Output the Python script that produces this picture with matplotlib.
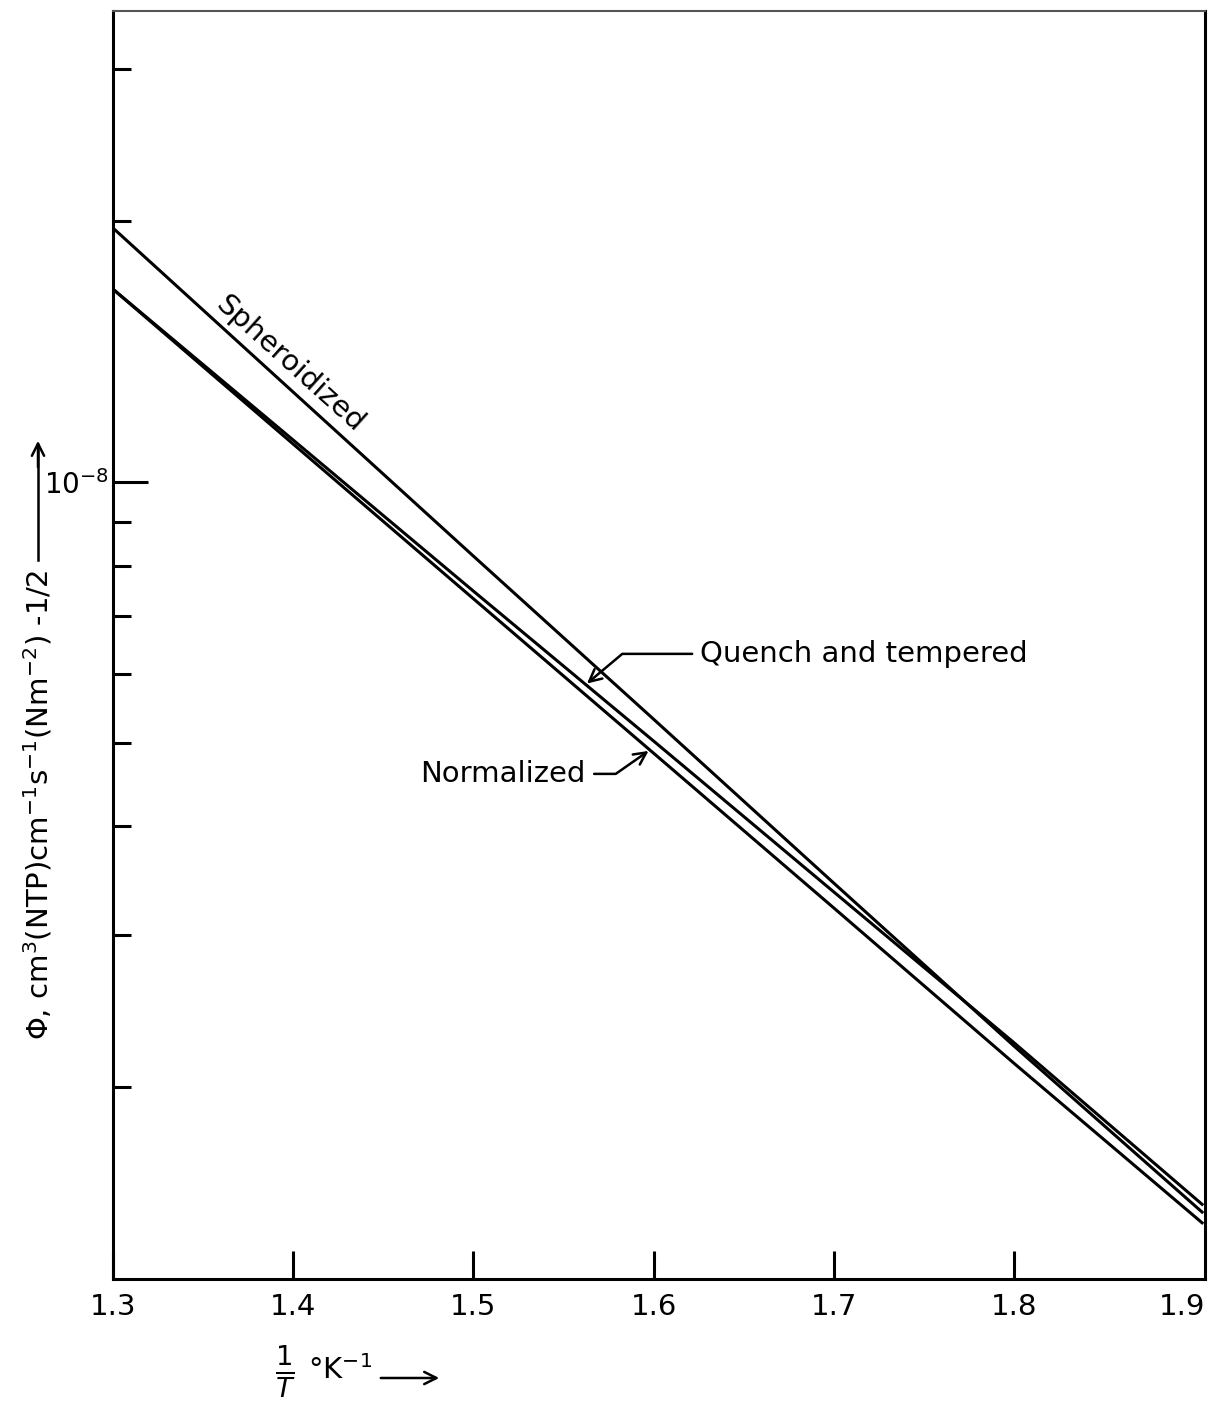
import numpy as np
import matplotlib
matplotlib.use("Agg")
import matplotlib.pyplot as plt
from matplotlib.patches import FancyArrowPatch
from matplotlib.ticker import FixedLocator, NullLocator
from matplotlib.transforms import ScaledTranslation

# 1/T values (10^-3 K^-1) and permeation
inv_T = [1.30, 1.40, 1.50, 1.60, 1.70, 1.80, 1.905]
spheroidized = [1.965e-8, 1.27e-8, 8.21e-9, 5.32e-9, 3.44e-9, 2.23e-9, 1.43e-9]
quench_tempered = [1.67e-8, 1.118e-8, 7.48e-9, 5.02e-9, 3.36e-9, 2.25e-9, 1.46e-9]
normalized = [1.67e-8, 1.106e-8, 7.33e-9, 4.86e-9, 3.22e-9, 2.13e-9, 1.39e-9]

x_ticks = [1.3, 1.4, 1.5, 1.6, 1.7, 1.8, 1.9]
x_tick_labels = ["1.3", "1.4", "1.5", "1.6", "1.7", "1.8", "1.9"]
y_major = [1e-8]
y_minor = [3e-8, 2e-8, 9e-9, 8e-9, 7e-9, 6e-9, 5e-9, 4e-9, 3e-9, 2e-9]

plt.rcParams["font.family"] = ["DejaVu Sans"]

fig = plt.figure(figsize=(12.1, 14.15), dpi=100)
ax = fig.add_axes([0.0934, 0.0961, 0.9025, 0.8961])

for series in (spheroidized, quench_tempered, normalized):
    ax.plot(inv_T, series, color="black", lw=2.2, solid_capstyle="butt")

ax.set_yscale("log")
ax.set_xlim(1.3, 1.906)
ax.set_ylim(1.2e-9, 3.5e-8)

ax.xaxis.set_major_locator(FixedLocator(x_ticks))
ax.set_xticklabels(x_tick_labels)
ax.xaxis.set_minor_locator(NullLocator())
ax.yaxis.set_major_locator(FixedLocator(y_major))
ax.yaxis.set_minor_locator(FixedLocator(y_minor))
ax.set_yticklabels([r"10$^{-8}$"])
ax.yaxis.set_minor_formatter(plt.NullFormatter())

ax.tick_params(axis="x", which="major", direction="in", length=20, width=2.2,
               labelsize=21, pad=10, top=False)
ax.tick_params(axis="y", which="major", direction="in", length=25, width=2.2,
               labelsize=20, pad=3, right=False)
ax.tick_params(axis="y", which="minor", direction="in", length=13, width=2.2, right=False)

# last x tick sits on the right spine: hide its mark and nudge its label inward
last_tick = ax.xaxis.get_major_ticks()[-1]
last_tick.tick1line.set_visible(False)
last_label = ax.get_xticklabels()[-1]
last_label.set_transform(last_label.get_transform()
                         + ScaledTranslation(-0.12, 0, fig.dpi_scale_trans))

for side in ("left", "bottom", "right"):
    ax.spines[side].set_linewidth(2.2)
ax.spines["top"].set_linewidth(1.5)
ax.spines["top"].set_color("#555555")

# curve labels
ax.text(1.398, 1.369e-8, "Spheroidized", rotation=-42, fontsize=21,
        ha="center", va="center", rotation_mode="anchor")

ax.annotate("Quench and tempered", xy=(1.563, 5.85e-9), xytext=(1.626, 6.33e-9),
            fontsize=21, ha="left", va="center",
            arrowprops=dict(arrowstyle="->", lw=1.8, color="black", shrinkA=4, shrinkB=0,
                            mutation_scale=22,
                            connectionstyle="angle,angleA=0,angleB=40,rad=0"))

ax.annotate("Normalized", xy=(1.5972, 4.89e-9), xytext=(1.5165, 4.60e-9),
            fontsize=21, ha="center", va="center",
            arrowprops=dict(arrowstyle="->", lw=1.8, color="black", shrinkA=4, shrinkB=0,
                            mutation_scale=22,
                            connectionstyle="angle,angleA=0,angleB=35,rad=0"))

# axis titles
fig.text(38 / 1210, 1 - 805 / 1415,
         "Φ, cm$^3$(NTP)cm$^{-1}$s$^{-1}$(Nm$^{-2}$) -1/2",
         rotation=90, fontsize=21, ha="center", va="center")
fig.add_artist(plt.Line2D([38 / 1210, 38 / 1210], [1 - 560 / 1415, 1 - 445 / 1415],
                          color="black", lw=1.8))
fig.patches.append(FancyArrowPatch(
    (38 / 1210, 1 - 470 / 1415), (38 / 1210, 1 - 438 / 1415),
    transform=fig.transFigure, arrowstyle="->", mutation_scale=22, lw=1.8, color="black"))

fig.text(285 / 1210, 1 - 1372 / 1415, r"$\frac{1}{T}$", fontsize=28, ha="center", va="center")
fig.text(308 / 1210, 1 - 1370 / 1415, "°K$^{-1}$", fontsize=21, ha="left", va="center")
fig.patches.append(FancyArrowPatch(
    (378 / 1210, 1 - 1378 / 1415), (442 / 1210, 1 - 1378 / 1415),
    transform=fig.transFigure, arrowstyle="->", mutation_scale=22, lw=1.8, color="black"))

fig.savefig("out.png", dpi=100)
